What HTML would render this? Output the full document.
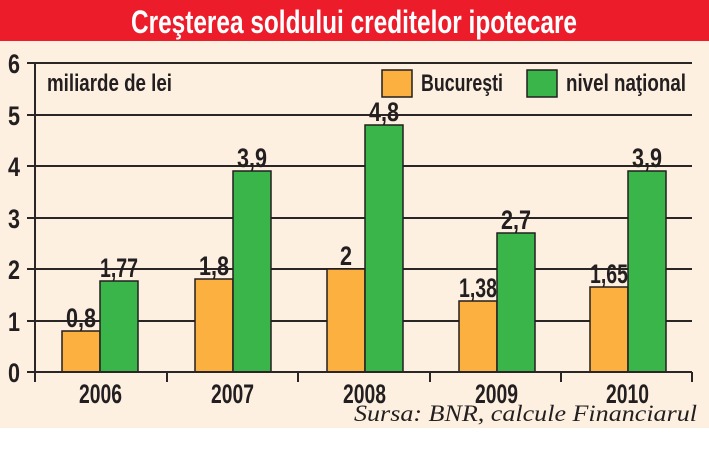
<!DOCTYPE html>
<html><head><meta charset="utf-8"><style>
html,body{margin:0;padding:0;background:#fff;}
svg{display:block;}
text{font-family:"Liberation Sans",sans-serif;}
</style></head><body>
<svg width="709" height="454" viewBox="0 0 709 454" xmlns="http://www.w3.org/2000/svg">
<rect x="0" y="0" width="709" height="428" fill="#fdf0e0"/>
<rect x="0" y="0" width="709" height="41" fill="#ec1c2a"/>
<text x="131" y="33" font-size="32" font-weight="bold" fill="#fff" textLength="446" lengthAdjust="spacingAndGlyphs">Creşterea soldului creditelor ipotecare</text>
<g stroke="#2a2626" stroke-width="2">
<line x1="27" y1="63" x2="692" y2="63"/>
<line x1="27" y1="115" x2="692" y2="115"/>
<line x1="27" y1="166" x2="692" y2="166"/>
<line x1="27" y1="218" x2="692" y2="218"/>
<line x1="27" y1="269" x2="692" y2="269"/>
<line x1="27" y1="321" x2="692" y2="321"/>
<line x1="35" y1="63" x2="35" y2="382"/>
<line x1="167" y1="372" x2="167" y2="382"/>
<line x1="298" y1="372" x2="298" y2="382"/>
<line x1="430" y1="372" x2="430" y2="382"/>
<line x1="561" y1="372" x2="561" y2="382"/>
<line x1="692" y1="372" x2="692" y2="382"/>
</g>
<g font-size="27" fill="#231f20" font-weight="bold">
<text x="8" y="73" textLength="12" lengthAdjust="spacingAndGlyphs">6</text>
<text x="8" y="125" textLength="12" lengthAdjust="spacingAndGlyphs">5</text>
<text x="8" y="176" textLength="12" lengthAdjust="spacingAndGlyphs">4</text>
<text x="8" y="228" textLength="12" lengthAdjust="spacingAndGlyphs">3</text>
<text x="8" y="279" textLength="12" lengthAdjust="spacingAndGlyphs">2</text>
<text x="8" y="331" textLength="12" lengthAdjust="spacingAndGlyphs">1</text>
<text x="8" y="382" textLength="12" lengthAdjust="spacingAndGlyphs">0</text>
</g>
<g font-size="24" fill="#231f20" font-weight="bold">
<text x="47" y="91" textLength="125" lengthAdjust="spacingAndGlyphs">miliarde de lei</text>
<text x="421" y="91" textLength="82" lengthAdjust="spacingAndGlyphs">Bucureşti</text>
<text x="566" y="91" textLength="120" lengthAdjust="spacingAndGlyphs">nivel naţional</text>
</g>
<rect x="382" y="70" width="30" height="27" fill="#fbb040" stroke="#231f20" stroke-width="1.5"/>
<rect x="527" y="70" width="30" height="27" fill="#39b54a" stroke="#231f20" stroke-width="1.5"/>
<g stroke="#231f20" stroke-width="1.5">
<rect x="62" y="331" width="38" height="41" fill="#fbb040"/>
<rect x="100" y="281" width="38" height="91" fill="#39b54a"/>
<rect x="195" y="279" width="38" height="93" fill="#fbb040"/>
<rect x="233" y="171" width="38" height="201" fill="#39b54a"/>
<rect x="327" y="269" width="38" height="103" fill="#fbb040"/>
<rect x="365" y="125" width="38" height="247" fill="#39b54a"/>
<rect x="459" y="301" width="38" height="71" fill="#fbb040"/>
<rect x="497" y="233" width="38" height="139" fill="#39b54a"/>
<rect x="590" y="287" width="38" height="85" fill="#fbb040"/>
<rect x="628" y="171" width="38" height="201" fill="#39b54a"/>
</g>
<line x1="27" y1="372" x2="692" y2="372" stroke="#2a2626" stroke-width="2"/>
<g font-size="27" fill="#231f20" font-weight="bold">
<text x="66" y="327" textLength="30" lengthAdjust="spacingAndGlyphs">0,8</text>
<text x="100" y="277" textLength="38" lengthAdjust="spacingAndGlyphs">1,77</text>
<text x="199" y="275" textLength="30" lengthAdjust="spacingAndGlyphs">1,8</text>
<text x="237" y="167" textLength="30" lengthAdjust="spacingAndGlyphs">3,9</text>
<text x="340" y="265" textLength="12" lengthAdjust="spacingAndGlyphs">2</text>
<text x="369" y="121" textLength="30" lengthAdjust="spacingAndGlyphs">4,8</text>
<text x="459" y="297" textLength="38" lengthAdjust="spacingAndGlyphs">1,38</text>
<text x="501" y="229" textLength="30" lengthAdjust="spacingAndGlyphs">2,7</text>
<text x="590" y="283" textLength="38" lengthAdjust="spacingAndGlyphs">1,65</text>
<text x="632" y="167" textLength="30" lengthAdjust="spacingAndGlyphs">3,9</text>
<text x="79" y="403" textLength="43" lengthAdjust="spacingAndGlyphs">2006</text>
<text x="211" y="403" textLength="43" lengthAdjust="spacingAndGlyphs">2007</text>
<text x="343" y="403" textLength="43" lengthAdjust="spacingAndGlyphs">2008</text>
<text x="475" y="403" textLength="43" lengthAdjust="spacingAndGlyphs">2009</text>
<text x="606" y="403" textLength="43" lengthAdjust="spacingAndGlyphs">2010</text>
</g>
<text x="354" y="421" font-size="23" font-style="italic" fill="#231f20" style="font-family:'Liberation Serif',serif" textLength="343" lengthAdjust="spacingAndGlyphs">Sursa: BNR, calcule Financiarul</text>
</svg>
</body></html>
